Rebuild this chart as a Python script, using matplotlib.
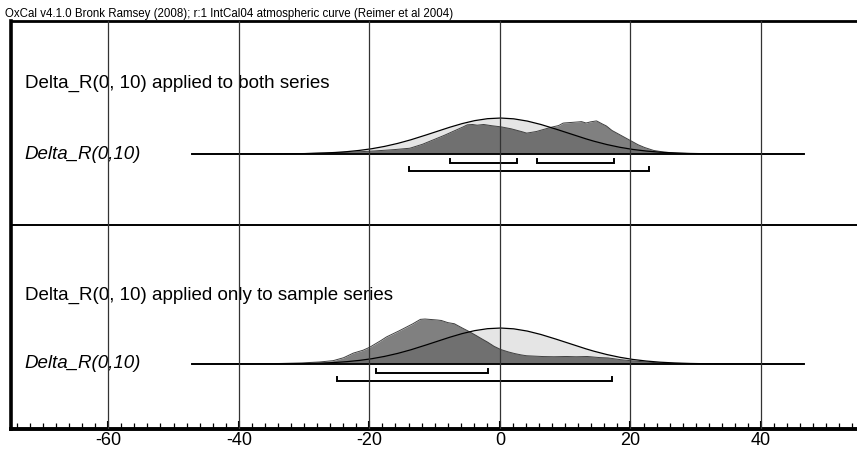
import numpy as np
import matplotlib
matplotlib.use("Agg")
import matplotlib.pyplot as plt

plt.rcParams['font.family'] = ['Liberation Sans', 'DejaVu Sans']

header = "OxCal v4.1.0 Bronk Ramsey (2008); r:1 IntCal04 atmospheric curve (Reimer et al 2004)"
titles = ["Delta_R(0, 10) applied to both series",
          "Delta_R(0, 10) applied only to sample series"]
labels = ["Delta_R(0,10)", "Delta_R(0,10)"]

# prior N(0,10), relative probability (peak = 1)
prior_x = [-48, -46, -44, -42, -40, -38, -36, -34, -32, -30, -28, -26, -24, -22, -20, -18,
           -16, -14, -12, -10, -8, -6, -4, -2, 0, 2, 4, 6, 8, 10, 12, 14, 16, 18, 20, 22,
           24, 26, 28, 30, 32, 34, 36, 38, 40, 42, 44, 46, 48]
prior_p = [0.0, 0.0, 0.0, 0.0001, 0.0003, 0.0007, 0.0015, 0.003, 0.006, 0.011, 0.020, 0.034,
           0.056, 0.089, 0.135, 0.198, 0.278, 0.375, 0.487, 0.607, 0.726, 0.835, 0.923, 0.980,
           1.0, 0.980, 0.923, 0.835, 0.726, 0.607, 0.487, 0.375, 0.278, 0.198, 0.135, 0.089,
           0.056, 0.034, 0.020, 0.011, 0.006, 0.003, 0.0015, 0.0007, 0.0003, 0.0001, 0.0, 0.0, 0.0]

# posterior, top panel
post1_x = [-47, -40, -34, -30, -26, -23, -20, -17, -15, -13.8, -12, -10.5, -9, -7.5, -6, -5,
           -4.2, -3.5, -2.5, -1.5, 0, 1.5, 3, 4.1, 5.5, 7, 8, 9, 9.7, 10.5, 11.5, 12.5, 13.2,
           13.8, 14.8, 15.5, 16.3, 17.1, 18, 19, 20, 21, 22, 23.5, 25, 27, 29, 33, 40, 47]
post1_p = [0, 0.002, 0.005, 0.012, 0.03, 0.05, 0.075, 0.11, 0.14, 0.16, 0.26, 0.37, 0.48,
           0.60, 0.72, 0.81, 0.82, 0.80, 0.82, 0.79, 0.76, 0.71, 0.64, 0.58, 0.62, 0.70, 0.75,
           0.79, 0.86, 0.87, 0.88, 0.90, 0.86, 0.89, 0.92, 0.85, 0.78, 0.66, 0.57, 0.47, 0.37,
           0.27, 0.19, 0.10, 0.055, 0.025, 0.01, 0.003, 0, 0]

# posterior, bottom panel
post2_x = [-47, -40, -35, -31, -28, -25.6, -24, -22.5, -21, -20, -18.5, -17.4, -16, -14.8,
           -13.5, -12.2, -11.5, -10, -9, -8, -7, -6, -5, -4, -3, -2, -1, 0, 1, 2, 3, 4, 6, 8,
           10, 11.5, 13.3, 15, 16.5, 18, 20, 22, 24, 26, 30, 36, 47]
post2_p = [0, 0.004, 0.01, 0.025, 0.05, 0.09, 0.17, 0.30, 0.38, 0.46, 0.62, 0.75, 0.87, 0.98,
           1.10, 1.24, 1.25, 1.23, 1.21, 1.15, 1.12, 1.02, 0.93, 0.83, 0.72, 0.62, 0.50, 0.41,
           0.35, 0.30, 0.26, 0.23, 0.21, 0.20, 0.21, 0.20, 0.21, 0.18, 0.17, 0.13, 0.09, 0.06,
           0.035, 0.02, 0.006, 0.001, 0]

# highest probability ranges (68.2% and 95.4%)
hpd68 = [[(-7.7, 2.6), (5.7, 17.4)], [(-19.0, -1.8)]]
hpd95 = [[(-14.0, 22.9)], [(-24.9, 17.1)]]

x_range = (-47.2, 46.6)
x_lim = (-74.9, 54.7)

# layout in pixel-like units (axis bottom = 0)
base_y = [275, 65]
sep_y = 204
title_y = [346, 134]
peak_h = 36

fig = plt.figure(figsize=(8.57, 4.49), dpi=100)
ax = fig.add_axes([11 / 857, 1 - 429 / 449, 1 - 11 / 857, 408.5 / 449])
ax.set_xlim(*x_lim)
ax.set_ylim(0, 408.5)

grid = np.linspace(x_range[0], x_range[1], 941)
posts = [(post1_x, post1_p), (post2_x, post2_p)]
for i in range(2):
    b = base_y[i]
    pr = np.interp(grid, prior_x, prior_p) * peak_h
    px_, pp_ = posts[i]
    po = np.interp(grid, px_, pp_) * peak_h
    ax.fill_between(grid, b, b + pr, color='#e5e5e5', lw=0, zorder=2)
    ax.fill_between(grid, b, b + po, color='#808080', lw=0, zorder=3)
    ax.fill_between(grid, b, b + np.minimum(pr, po), color='#707070', lw=0, zorder=4)
    ax.plot(grid, b + po, color='#404040', lw=0.7, zorder=5)
    ax.plot(grid, b + pr, color='black', lw=0.9, zorder=6)
    ax.plot(x_range, [b, b], color='black', lw=1.3, zorder=7)

    for k, rows in enumerate([hpd68[i], hpd95[i]]):
        yb = b - 8.5 - 8 * k
        for lo, hi in rows:
            ax.plot([lo, lo, hi, hi], [yb + 4, yb, yb, yb + 4], color='black', lw=1.4,
                    solid_joinstyle='miter', zorder=7)

    ax.text(-72.8, title_y[i], titles[i], fontsize=13.5, va='center', ha='left', zorder=8)
    ax.text(-72.8, b, labels[i], fontsize=13.5, style='italic', va='center', ha='left', zorder=8)

ax.axhline(sep_y, color='black', lw=1.4, zorder=9)
for gx in range(-60, 60, 20):
    ax.axvline(gx, color='#333333', lw=0.9, zorder=10)

ax.set_xticks(range(-60, 60, 20))
ax.set_xticks(range(-74, 56, 2), minor=True)
ax.set_xticklabels([str(v) for v in range(-60, 60, 20)], fontsize=13)
ax.tick_params(axis='x', which='major', direction='in', length=6, width=1.5, pad=2)
ax.tick_params(axis='x', which='minor', direction='in', length=4, width=0.9)
ax.set_yticks([])
ax.spines['right'].set_visible(False)
ax.spines['left'].set_linewidth(2.6)
ax.spines['bottom'].set_linewidth(2.8)
ax.spines['top'].set_linewidth(2.0)

fig.text(5 / 857, 1 - 17.5 / 449, header, fontsize=8.3, ha='left', va='baseline')

fig.savefig('out.png', dpi=100)
